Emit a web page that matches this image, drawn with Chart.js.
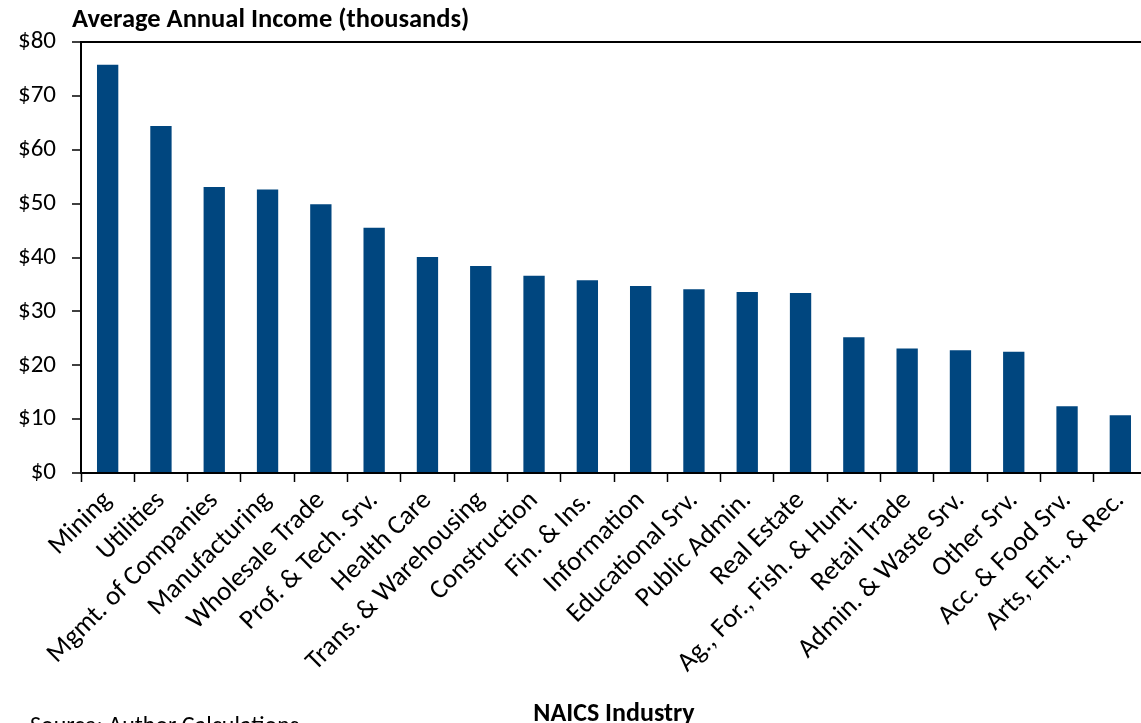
<!DOCTYPE html>
<html>
<head>
<meta charset="utf-8">
<script src="https://cdn.jsdelivr.net/npm/chart.js@4.4.1/dist/chart.umd.min.js"></script>
<style>
  html, body { margin: 0; padding: 0; overflow: hidden; background: #fff; }
  #wrap { width: 1150px; height: 723px; }
</style>
</head>
<body>
<div id="wrap"><canvas id="incomeChart" width="1150" height="723"></canvas></div>
<script>
// Average annual income by industry (thousands of dollars)
const industries = [
    'Mining', 'Utilities', 'Mgmt. of Companies', 'Manufacturing', 'Wholesale Trade',
    'Prof. & Tech. Srv.', 'Health Care', 'Trans. & Warehousing', 'Construction', 'Fin. & Ins.',
    'Information', 'Educational Srv.', 'Public Admin.', 'Real Estate', 'Ag., For., Fish. & Hunt.',
    'Retail Trade', 'Admin. & Waste Srv.', 'Other Srv.', 'Acc. & Food Srv.', 'Arts, Ent., & Rec.'
];
const avgIncome = [
    75.8, 64.4, 53.1, 52.6, 49.9,
    45.5, 40.1, 38.4, 36.6, 35.8,
    34.7, 34.1, 33.6, 33.4, 25.2,
    23.1, 22.8, 22.5, 12.4, 10.7
];
const yTicks = [0, 10, 20, 30, 40, 50, 60, 70, 80];

const fontFamily = 'Carlito, Calibri, Lato, sans-serif';

// Extra text: the value-axis heading at top and the source note at bottom
const extraText = {
    id: 'extraText',
    afterDraw(chart) {
        const ctx = chart.ctx;
        ctx.save();
        ctx.fillStyle = '#000';
        ctx.textAlign = 'left';
        ctx.textBaseline = 'alphabetic';
        ctx.font = 'bold 26.5px ' + fontFamily;
        ctx.fillText('Average Annual Income (thousands)', 72, 27);
        ctx.font = '24px ' + fontFamily;
        ctx.fillText('Source: Author Calculations', 30, 733);
        ctx.restore();
    }
};

const ctx = document.getElementById('incomeChart').getContext('2d');
new Chart(ctx, {
    type: 'bar',
    data: {
        labels: industries,
        datasets: [{
            data: avgIncome,
            backgroundColor: '#00467F',
            borderWidth: 0,
            barPercentage: 0.4,
            categoryPercentage: 1.0
        }]
    },
    options: {
        responsive: false,
        animation: false,
        layout: { padding: { top: 42, right: 3, left: 0, bottom: 0 } },
        plugins: {
            legend: { display: false },
            tooltip: { enabled: false }
        },
        scales: {
            x: {
                border: { display: true, color: '#000', width: 2 },
                grid: {
                    drawOnChartArea: false,
                    tickLength: 9,
                    tickColor: '#000',
                    tickWidth: 1.5
                },
                ticks: {
                    autoSkip: false,
                    minRotation: 45,
                    maxRotation: 45,
                    color: '#000',
                    font: { family: fontFamily, size: 27 }
                },
                title: {
                    display: true,
                    text: 'NAICS Industry',
                    color: '#000',
                    font: { family: fontFamily, size: 26, weight: 'bold' },
                    padding: { top: 0, bottom: -7 }
                },
                afterFit(scale) { scale.height = 250; }
            },
            y: {
                min: 0,
                max: 80,
                border: { display: true, color: '#000', width: 2 },
                grid: {
                    // only the top line at $80 is drawn across the plot
                    color: c => c.tick && c.tick.value === 80 ? '#000' : 'rgba(0,0,0,0)',
                    lineWidth: 2,
                    tickLength: 9,
                    tickColor: '#000',
                    tickWidth: 1.5
                },
                afterBuildTicks(scale) {
                    scale.ticks = yTicks.map(v => ({ value: v }));
                },
                ticks: {
                    padding: 16,
                    color: '#000',
                    font: { family: fontFamily, size: 25 },
                    callback: v => '$' + v
                },
                afterFit(scale) { scale.width = 81; }
            }
        }
    },
    plugins: [extraText]
});
</script>
</body>
</html>
